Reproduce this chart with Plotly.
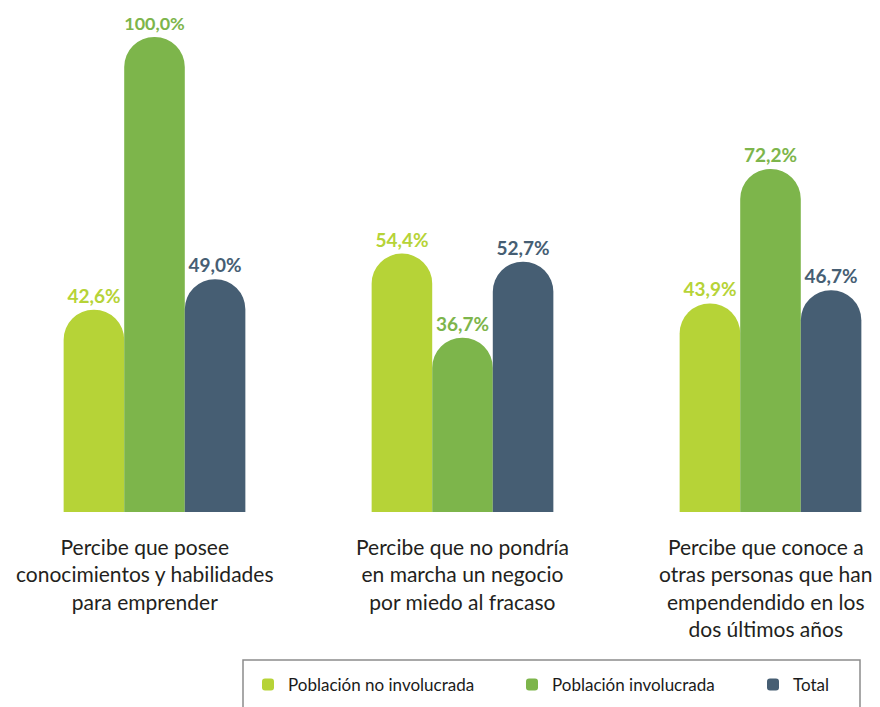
import plotly.graph_objects as go

categories = [
    "Percibe que posee<br>conocimientos y habilidades<br>para emprender",
    "Percibe que no pondría<br>en marcha un negocio<br>por miedo al fracaso",
    "Percibe que conoce a<br>otras personas que han<br>empendendido en los<br>dos últimos años",
]
series_names = ["Población no involucrada", "Población involucrada", "Total"]
no_involucrada = [42.6, 54.4, 43.9]
involucrada = [100.0, 36.7, 72.2]
total = [49.0, 52.7, 46.7]
colors = ["#b6d337", "#7db54b", "#465e73"]

# the page adds an 8px body margin; work in reference-window pixels
OFF = 8
W, H = 880 - OFF, 707 - OFF
plot_bottom = 512 - OFF
plot_top = 18 - OFF
ph = plot_bottom - plot_top
unit = 4.75   # px per percentage point
cat_step = 308.0
first_center = 154.5 - OFF
label_xshift = [-10, 0, -5]

def py(ref_y):
    return (plot_bottom - (ref_y - OFF)) / ph

def px(ref_x):
    return (ref_x - OFF) / W

xs = list(range(len(categories)))
fig = go.Figure()
legend_ids = ["legend", "legend2", "legend3"]
for name, vals, col, lg in zip(series_names, [no_involucrada, involucrada, total], colors, legend_ids):
    fig.add_trace(go.Bar(
        x=xs, y=vals, name=name, legend=lg,
        marker=dict(color=col, line=dict(width=0)),
        text=[f"{v:.1f}%".replace(".", ",") for v in vals],
        textposition="outside",
        textfont=dict(family="Lato", size=19, color=col, weight="bold"),
        cliponaxis=False,
    ))

ann = []
for i, c in enumerate(categories):
    ann.append(dict(x=i, y=py(532), xref="x", yref="paper", text=c, showarrow=False,
                    xanchor="center", yanchor="top", align="center",
                    xshift=label_xshift[i],
                    font=dict(family="Lato", size=21, color="#231f20")))

legend_common = dict(orientation="h", yanchor="top", xanchor="left",
                     font=dict(family="Lato", size=17, color="#1a1a1a"),
                     bgcolor="rgba(0,0,0,0)", borderwidth=0)

fig.update_layout(
    width=W, height=H,
    margin=dict(l=0, r=0, t=plot_top, b=H - plot_bottom),
    plot_bgcolor="white", paper_bgcolor="white",
    barmode="group", bargap=0.41, bargroupgap=0,
    barcornerradius="50%",
    xaxis=dict(range=[-first_center / cat_step, (W - first_center) / cat_step],
               showticklabels=False, showgrid=False, zeroline=False,
               showline=False, ticks=""),
    yaxis=dict(range=[0, ph / unit], visible=False, showgrid=False, zeroline=False),
    annotations=ann,
    showlegend=True,
    legend=dict(x=px(248), y=py(667), **legend_common),
    legend2=dict(x=px(512), y=py(667), **legend_common),
    legend3=dict(x=px(753), y=py(667), **legend_common),
    shapes=[dict(type="rect", xref="paper", yref="paper",
                 x0=px(243), x1=px(860), y0=py(660), y1=py(740),
                 line=dict(color="#8c8c8c", width=1.5), fillcolor="rgba(0,0,0,0)")],
)

fig.write_html("out.html")
